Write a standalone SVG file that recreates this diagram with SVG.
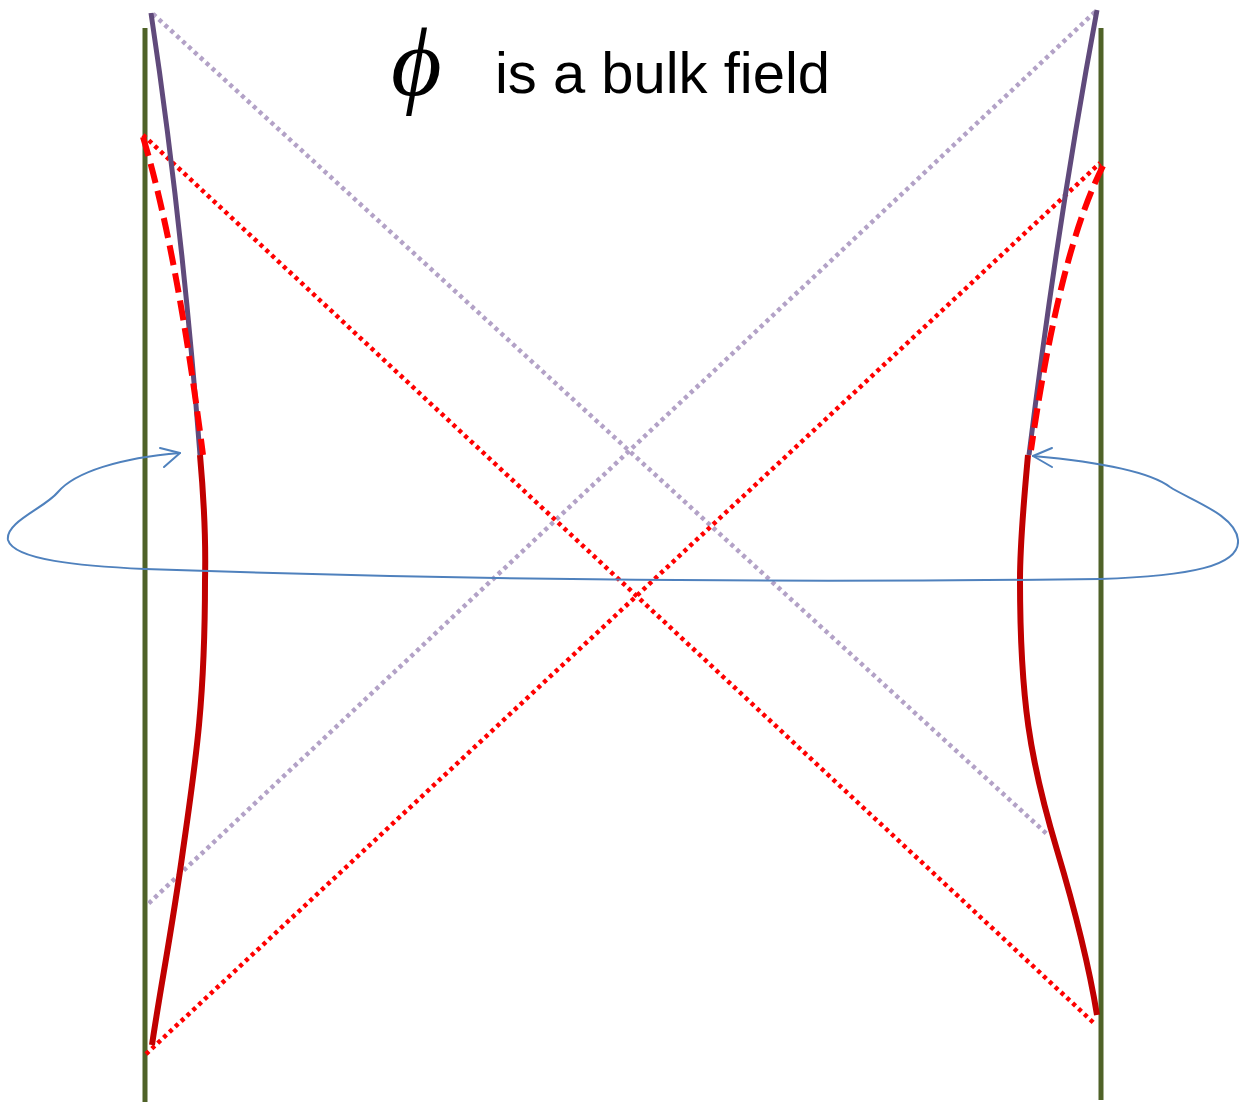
<svg xmlns="http://www.w3.org/2000/svg" width="1239" height="1106" viewBox="0 0 1239 1106">
<style>
.wall{stroke:#4f6228;stroke-width:5;fill:none}
.purple{stroke:#604a7b;stroke-width:5;fill:none}
.solid{stroke:#c00000;stroke-width:6;fill:none}
.dash{stroke:#ff0000;stroke-width:6;fill:none;stroke-dasharray:20 8}
.rdot{stroke:#ff0000;stroke-width:4.5;fill:none;stroke-dasharray:4 4}
.pdot{stroke:#b3a2c7;stroke-width:4.5;fill:none;stroke-dasharray:4 4}
.blue{stroke:#4f81bd;stroke-width:2;fill:none;stroke-linecap:round;stroke-linejoin:round}
</style>
<rect width="1239" height="1106" fill="#ffffff"/>
<g id="boundaries">
<line class="wall" x1="145" y1="28" x2="145" y2="1102"/>
<line class="wall" x1="1101" y1="28" x2="1101" y2="1100"/>
</g>
<g id="light-rays">
<line class="pdot" x1="153" y1="14" x2="1048" y2="835"/>
<line class="pdot" x1="1095" y1="12" x2="147" y2="905"/>
<line class="rdot" x1="143" y1="135" x2="1096" y2="1025"/>
<line class="rdot" x1="146" y1="1054" x2="1100" y2="163"/>
</g>
<g id="left-trajectory">
<path class="purple" d="M151,13 Q182,220 200,455"/>
<path class="dash" d="M143,137 Q177,250 203,455"/>
<path class="solid" d="M200,455 C204,500 206,540 205,580 C205,700 196,760 183,850 C172,930 160,990 152,1045"/>
</g>
<g id="right-trajectory">
<path class="purple" d="M1097,10 Q1058,220 1029,455"/>
<path class="dash" d="M1103,166 Q1060,250 1031,450"/>
<path class="solid" d="M1028,455 C1024,500 1020,540 1020,580 C1020,700 1030,760 1057,850 C1075,910 1088,960 1097,1015"/>
</g>
<g id="connectors">
<path class="blue" d="M180,453 C120,458 75,472 58,492 C45,508 5,522 8,540 C14,560 80,566 145,569 C400,578 700,584 1100,579 C1190,576 1240,566 1238,540 C1236,515 1190,500 1170,487 C1150,472 1100,462 1033,456"/>
<polyline class="blue" points="160,448 180,453 164,467"/>
<polyline class="blue" points="1052,448 1033,456 1052,467"/>
</g>
<g id="title">
<text x="391" y="95" font-family="Liberation Serif, serif" font-style="italic" font-size="98">ϕ</text>
<text x="495" y="93" font-family="Liberation Sans, Arial, sans-serif" font-size="57" textLength="335" lengthAdjust="spacingAndGlyphs">is a bulk field</text>
</g>
</svg>
